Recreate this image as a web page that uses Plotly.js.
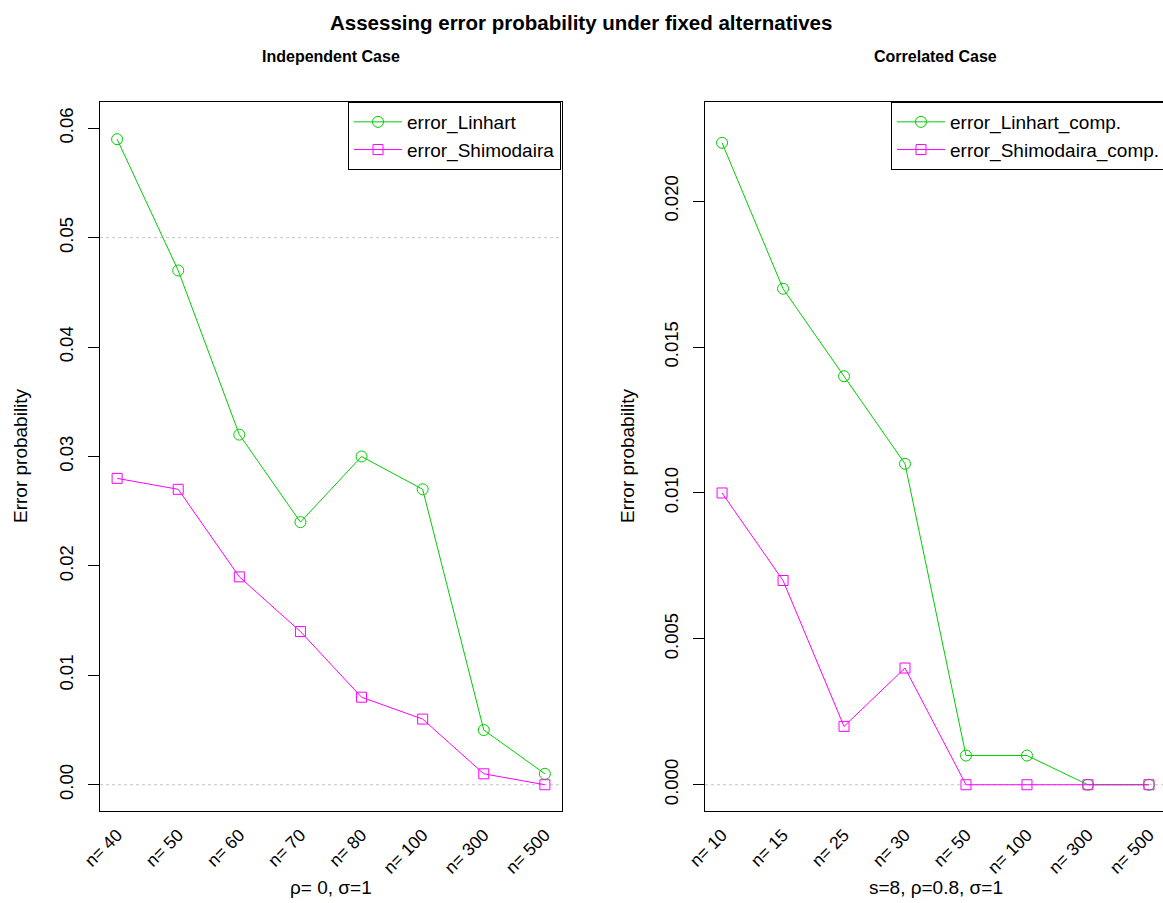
<!DOCTYPE html>
<html><head><meta charset="utf-8">
<script src="https://cdn.plot.ly/plotly-3.0.1.min.js"></script>
<style>html,body{margin:0;padding:0;overflow:hidden;background:#fff;}</style>
</head><body>
<div id="chart" style="width:1166px;height:903px;"></div>
<script>
var catsIndep = ["n= 40","n= 50","n= 60","n= 70","n= 80","n= 100","n= 300","n= 500"];
var catsCorr = ["n= 10","n= 15","n= 25","n= 30","n= 50","n= 100","n= 300","n= 500"];
var errLinhart = [0.059,0.047,0.032,0.024,0.030,0.027,0.005,0.001];
var errShimodaira = [0.028,0.027,0.019,0.014,0.008,0.006,0.001,0.000];
var errLinhartComp = [0.022,0.017,0.014,0.011,0.001,0.001,0.000,0.000];
var errShimodairaComp = [0.010,0.007,0.002,0.004,0.000,0.000,0.000,0.000];

var idx = catsIndep.map(function(_,i){return i+1;});
var FONT = "Liberation Sans, Arial, sans-serif";
var GREEN = "#00CD00", MAG = "#FF00FF";
var W = 1166, H = 903;

var traces = [
 {x: idx, y: errLinhart, name: "error_Linhart", type:"scatter", mode:"lines+markers", xaxis:"x", yaxis:"y", legend:"legend",
  line:{color:GREEN,width:1}, marker:{symbol:"circle-open",size:11,color:GREEN,line:{width:1}}},
 {x: idx, y: errShimodaira, name: "error_Shimodaira", type:"scatter", mode:"lines+markers", xaxis:"x", yaxis:"y", legend:"legend",
  line:{color:MAG,width:1}, marker:{symbol:"square-open",size:10,color:MAG,line:{width:1}}},
 {x: idx, y: errLinhartComp, name: "error_Linhart_comp.", type:"scatter", mode:"lines+markers", xaxis:"x2", yaxis:"y2", legend:"legend2",
  line:{color:GREEN,width:1}, marker:{symbol:"circle-open",size:11,color:GREEN,line:{width:1}}},
 {x: idx, y: errShimodairaComp, name: "error_Shimodaira_comp.", type:"scatter", mode:"lines+markers", xaxis:"x2", yaxis:"y2", legend:"legend2",
  line:{color:MAG,width:1}, marker:{symbol:"square-open",size:10,color:MAG,line:{width:1}}}
];

var yTop = 1 - 102/H, yBot = 1 - 811/H;
function xax(domain, labels){
  return {domain:domain, range:[0.72,8.28], tickmode:"array", tickvals:idx, ticktext:labels,
    tickangle:-45, ticks:"", ticklabelstandoff:6, showline:true, mirror:true,
    linecolor:"#000", linewidth:1, showgrid:false, zeroline:false,
    tickfont:{family:FONT,size:17.5,color:"#000"}, fixedrange:true};
}
function yax(anchor, range, dtick, fmt){
  return {domain:[yBot,yTop], anchor:anchor, range:range, dtick:dtick, tick0:0, tickformat:fmt,
    tickangle:-90, ticks:"outside", ticklen:11, tickcolor:"#000", showline:true, mirror:true,
    linecolor:"#000", linewidth:1, showgrid:false, zeroline:false, ticklabelstandoff:8,
    tickfont:{family:FONT,size:18.5,color:"#000"}, fixedrange:true};
}
var legFont = {family:FONT,size:19,color:"#000"};

var layout = {
  width: W, height: H, paper_bgcolor:"#fff", plot_bgcolor:"#fff",
  margin:{l:0,r:0,t:0,b:0,autoexpand:false},
  font:{family:FONT,color:"#000"},
  xaxis: xax([100/W, 562/W], catsIndep),
  yaxis: yax("x", [-0.0024, 0.0624], 0.01, ".2f"),
  xaxis2: Object.assign(xax([705/W, 1], catsCorr), {anchor:"y2"}),
  yaxis2: yax("x2", [-0.0009, 0.0234], 0.005, ".3f"),
  legend: {x:348/W, xanchor:"left", y:yTop, yanchor:"top", bgcolor:"#fff", bordercolor:"#000", borderwidth:1,
    font:legFont, tracegroupgap:0, itemwidth:48},
  legend2: {x:891/W, xanchor:"left", y:yTop, yanchor:"top", bgcolor:"#fff", bordercolor:"#000", borderwidth:1,
    font:legFont, tracegroupgap:0, itemwidth:48},
  shapes: [
    {type:"line", xref:"x domain", yref:"y", x0:0, x1:1, y0:0.05, y1:0.05, layer:"below", line:{color:"#c4c4c4",width:1,dash:"dot"}},
    {type:"line", xref:"x domain", yref:"y", x0:0, x1:1, y0:0, y1:0, layer:"below", line:{color:"#c4c4c4",width:1,dash:"dot"}},
    {type:"line", xref:"x2 domain", yref:"y2", x0:0, x1:1, y0:0, y1:0, layer:"below", line:{color:"#c4c4c4",width:1,dash:"dot"}}
  ],
  annotations: [
    {text:"<b>Assessing error probability under fixed alternatives</b>", xref:"paper", yref:"paper", x:581/W, y:1-22/H, xanchor:"center", yanchor:"middle", showarrow:false, font:{family:FONT,size:20.5,color:"#000"}},
    {text:"<b>Independent Case</b>", xref:"paper", yref:"paper", x:331/W, y:1-56/H, xanchor:"center", yanchor:"middle", showarrow:false, font:{family:FONT,size:16,color:"#000"}},
    {text:"<b>Correlated Case</b>", xref:"paper", yref:"paper", x:935.5/W, y:1-56/H, xanchor:"center", yanchor:"middle", showarrow:false, font:{family:FONT,size:16,color:"#000"}},
    {text:"Error probability", xref:"paper", yref:"paper", x:20/W, y:1-456/H, xanchor:"center", yanchor:"middle", textangle:-90, showarrow:false, font:{family:FONT,size:19,color:"#000"}},
    {text:"Error probability", xref:"paper", yref:"paper", x:627/W, y:1-456/H, xanchor:"center", yanchor:"middle", textangle:-90, showarrow:false, font:{family:FONT,size:19,color:"#000"}},
    {text:"ρ= 0, σ=1", xref:"paper", yref:"paper", x:331/W, y:1-887/H, xanchor:"center", yanchor:"middle", showarrow:false, font:{family:FONT,size:19,color:"#000"}},
    {text:"s=8, ρ=0.8, σ=1", xref:"paper", yref:"paper", x:935.5/W, y:1-887/H, xanchor:"center", yanchor:"middle", showarrow:false, font:{family:FONT,size:19,color:"#000"}}
  ],
  showlegend:true
};

Plotly.newPlot("chart", traces, layout, {displayModeBar:false, staticPlot:true});
</script>
</body></html>
